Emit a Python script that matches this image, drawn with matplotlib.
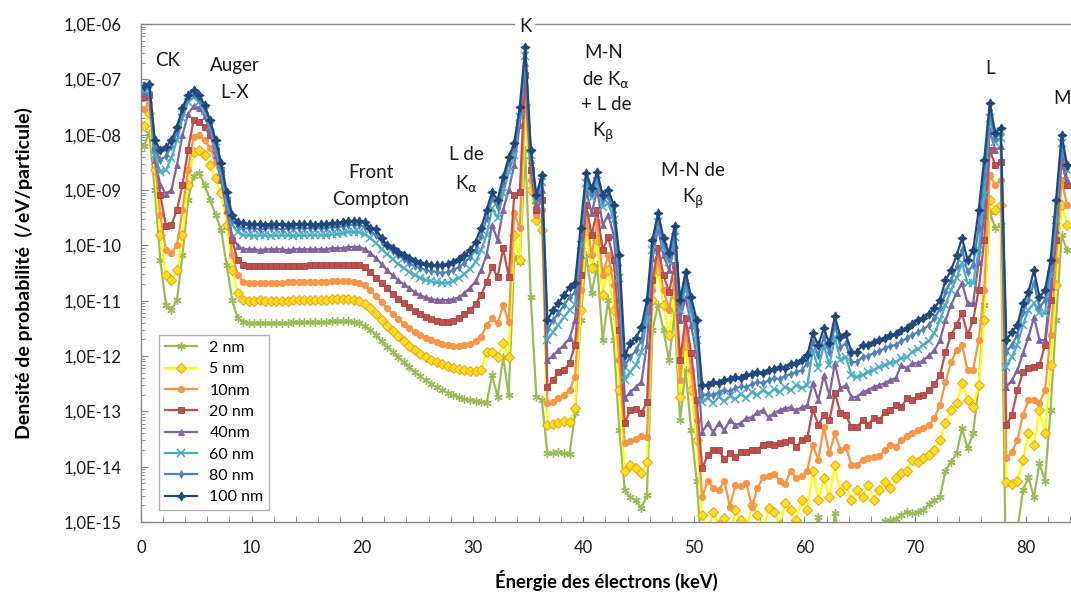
import numpy as np
import matplotlib
matplotlib.use('Agg')
import matplotlib.pyplot as plt
from matplotlib.ticker import FuncFormatter, LogLocator, NullFormatter, MultipleLocator
from matplotlib.lines import Line2D

plt.rcParams['font.family'] = ['Lato', 'DejaVu Sans']
plt.rcParams['mathtext.fontset'] = 'dejavusans'

# energy bin centres (keV)
energy_keV = np.arange(168) * 0.5 + 0.25

labels = ['2 nm', '5 nm', '10nm', '20 nm', '40nm', '60 nm', '80 nm', '100 nm']

# log10 of probability density (/eV/particle)
log_2nm = [-8.21, -7.97, -9.00, -10.27, -11.08, -11.17, -10.99, -10.18, -9.18, -8.75, -8.69, -8.91, -9.18, -9.45, -9.73, -10.36, -10.99,
           -11.32, -11.39, -11.41, -11.41, -11.41, -11.41, -11.41, -11.41, -11.41, -11.41, -11.39, -11.39, -11.39, -11.39, -11.39, -11.39, -11.39, -11.37, -11.37, -11.37, -11.37, -11.39,
           -11.41, -11.46, -11.53, -11.62, -11.73, -11.84, -11.93, -12.02, -12.11, -12.20, -12.29, -12.36, -12.44, -12.51,
           -12.56, -12.62, -12.67, -12.71, -12.74, -12.78, -12.80, -12.82, -12.84, -12.85,
           -12.35, -12.74, -12.02, -12.71, -10.21, -10.30, -8.28, -10.94, -12.74, -12.80,
           -13.76, -13.76, -13.74, -13.76, -13.78,
           -13.03, -11.35, -10.18, -10.86, -10.36, -11.71, -10.99, -11.71, -13.34,
           -14.43, -14.55, -14.61, -14.75, -14.52,
           -11.53, -11.08, -11.53, -12.08, -11.23, -13.16, -12.26, -13.34, -14.25,
           -15.69, -16.05, -15.87, -16.24, -15.96, -15.69, -16.14, -15.87, -16.24, -15.78, -15.96, -16.05, -15.69, -15.87, -16.14, -15.69, -15.96, -15.78, -15.60,
           -15.87, -15.33, -14.91, -15.33, -15.69, -14.84, -15.42, -15.69, -15.87,
           -15.69, -15.87, -15.60, -15.42, -15.24, -14.99, -14.97, -14.95, -14.88, -14.82, -14.84, -14.82, -14.79, -14.68, -14.61, -14.55,
           -14.07, -13.92, -13.76, -13.31, -13.67, -13.40, -12.53, -11.08, -9.40, -9.69, -9.63,
           -16.42, -15.69, -15.15, -14.43, -14.19, -14.55, -13.94, -14.25, -12.98, -11.35, -9.82, -10.09]

log_5nm = [-7.84, -7.61, -8.64, -9.82, -10.54, -10.63, -10.45, -9.82, -8.91, -8.31, -8.28, -8.37, -8.55, -8.78, -9.06, -9.63, -10.45,
           -10.86, -10.99, -11.01, -11.01, -10.99, -11.01, -11.01, -11.01, -11.01, -11.01, -10.99, -10.99, -10.99, -10.99, -10.99, -10.99, -10.99, -10.97, -10.97, -10.97, -10.97, -10.99,
           -11.01, -11.06, -11.14, -11.24, -11.35, -11.46, -11.55, -11.64, -11.73, -11.82, -11.90, -11.97, -12.02, -12.08,
           -12.11, -12.15, -12.18, -12.22, -12.24, -12.26, -12.27, -12.27, -12.26, -11.93,
           -11.93, -12.02, -11.77, -12.02, -9.82, -10.27, -7.47, -9.00, -9.54, -9.73,
           -13.25, -13.23, -13.21, -13.18, -13.20,
           -12.94, -11.17, -9.73, -10.41, -9.91, -10.90, -10.45, -11.17, -12.62,
           -14.07, -13.97, -14.03, -14.12, -13.92,
           -10.99, -10.45, -11.08, -11.62, -10.90, -12.74, -11.80, -12.62, -13.52,
           -14.88, -15.15, -14.82, -15.06, -14.93, -15.24, -14.79, -14.97, -15.11, -14.70, -14.88, -15.15, -14.75, -14.82, -15.06, -14.66, -14.79, -14.97, -14.61,
           -14.79, -14.07, -14.61, -14.21, -14.55, -13.97, -14.46, -14.34, -14.61,
           -14.43, -14.55, -14.34, -14.61, -14.43, -14.28, -14.39, -14.21, -14.12, -14.07, -13.88, -13.92, -13.85, -13.79, -13.70, -13.52,
           -13.21, -12.98, -12.85, -12.49, -12.80, -12.93, -12.53, -11.35, -9.18, -9.36, -9.27,
           -14.28, -14.32, -14.25, -13.88, -13.40, -13.61, -12.98, -13.40, -12.17, -10.72, -9.27, -9.63]

log_10nm = [-7.54, -7.43, -8.46, -9.45, -10.09, -10.14, -10.00, -9.36, -8.64, -8.04, -8.01, -8.10, -8.24, -8.50, -8.82, -9.40, -10.18,
            -10.54, -10.67, -10.68, -10.68, -10.68, -10.68, -10.68, -10.68, -10.68, -10.67, -10.67, -10.67, -10.67, -10.67, -10.67, -10.67, -10.67, -10.65, -10.65, -10.65, -10.65, -10.67,
            -10.68, -10.72, -10.81, -10.92, -11.03, -11.14, -11.24, -11.33, -11.42, -11.50, -11.57, -11.62, -11.68, -11.71,
            -11.75, -11.79, -11.80, -11.82, -11.82, -11.80, -11.79, -11.73, -11.66, -11.44,
            -11.32, -11.41, -11.08, -11.39, -9.42, -9.69, -7.19, -8.82, -9.45, -9.36,
            -12.85, -12.84, -12.76, -12.71, -12.62,
            -12.38, -10.81, -9.45, -10.18, -9.58, -10.54, -10.18, -10.72, -12.08,
            -13.58, -13.54, -13.50, -13.45, -13.47,
            -10.81, -10.23, -10.81, -11.17, -10.63, -12.44, -11.53, -12.26, -13.16,
            -14.55, -14.25, -14.39, -14.43, -14.25, -14.72, -14.34, -14.35, -14.30, -14.73, -14.39, -14.19, -14.17, -14.14, -14.25, -14.32, -14.07, -14.21, -14.16,
            -14.07, -13.61, -13.88, -13.29, -13.76, -13.40, -13.70, -13.65, -13.97,
            -13.97, -13.88, -13.85, -13.83, -13.81, -13.70, -13.61, -13.65, -13.52, -13.45, -13.40, -13.34, -13.31, -13.25, -13.12, -12.89,
            -12.47, -12.11, -11.90, -11.80, -12.26, -12.26, -11.71, -10.81, -8.73, -8.91, -8.82,
            -13.85, -13.74, -13.52, -13.07, -12.80, -12.80, -12.85, -12.62, -11.62, -10.27, -8.82, -9.27]

log_20nm = [-7.32, -7.28, -8.28, -9.09, -9.65, -9.63, -9.36, -8.91, -8.28, -7.74, -7.77, -7.86, -8.01, -8.28, -8.64, -9.18, -9.91,
            -10.27, -10.36, -10.38, -10.38, -10.38, -10.38, -10.38, -10.38, -10.38, -10.38, -10.38, -10.38, -10.38, -10.36, -10.36, -10.36, -10.36, -10.36, -10.36, -10.36, -10.36, -10.36,
            -10.36, -10.39, -10.48, -10.59, -10.68, -10.77, -10.88, -10.97, -11.05, -11.12, -11.19, -11.24, -11.30, -11.33,
            -11.37, -11.39, -11.39, -11.37, -11.32, -11.24, -11.17, -11.06, -10.90, -10.67,
            -10.39, -10.57, -10.05, -10.57, -9.09, -9.04, -6.92, -8.64, -9.36, -9.18,
            -12.56, -12.44, -12.29, -12.26, -12.13,
            -11.80, -10.54, -9.27, -9.82, -9.36, -10.09, -9.85, -10.27, -11.53,
            -13.21, -12.98, -12.96, -13.03, -12.84,
            -10.63, -10.05, -10.54, -10.85, -10.36, -12.08, -11.32, -11.95, -12.80,
            -14.03, -13.79, -13.70, -13.69, -13.87, -13.76, -13.83, -13.74, -13.74, -13.70, -13.69, -13.61, -13.59, -13.61, -13.58, -13.56, -13.52, -13.65, -13.52,
            -13.49, -12.96, -13.25, -13.07, -13.16, -12.67, -13.03, -13.07, -13.29,
            -13.29, -13.16, -13.25, -13.12, -13.16, -13.02, -12.98, -12.89, -12.93, -12.76, -12.80, -12.73, -12.71, -12.62, -12.51, -12.35,
            -11.93, -11.62, -11.44, -11.23, -11.62, -11.35, -10.81, -9.91, -8.28, -8.55, -8.50,
            -13.25, -13.07, -12.62, -12.29, -12.22, -12.20, -12.17, -11.80, -10.99, -9.91, -8.46, -8.91]

log_40nm = [-7.25, -7.27, -8.46, -8.91, -9.07, -9.00, -8.55, -8.01, -7.63, -7.48, -7.52, -7.66, -7.95, -8.37, -8.82, -9.36, -9.83,
            -10.01, -10.07, -10.07, -10.07, -10.09, -10.07, -10.07, -10.07, -10.07, -10.09, -10.07, -10.07, -10.07, -10.07, -10.07, -10.07, -10.07, -10.05, -10.05, -10.05, -10.03, -10.03,
            -10.03, -10.07, -10.14, -10.23, -10.34, -10.45, -10.54, -10.63, -10.70, -10.77, -10.85, -10.90, -10.94, -10.97,
            -10.99, -10.99, -10.99, -10.97, -10.94, -10.86, -10.77, -10.65, -10.45, -10.18,
            -9.63, -9.91, -9.36, -9.00, -8.55, -7.83, -6.71, -8.46, -9.27, -9.00,
            -12.08, -11.99, -11.90, -11.80, -11.68,
            -11.35, -10.18, -9.00, -9.42, -9.00, -9.63, -9.45, -9.82, -10.99,
            -12.76, -12.65, -12.56, -12.47, -11.80,
            -10.23, -9.69, -10.18, -10.45, -10.00, -11.35, -10.94, -11.44, -11.99,
            -13.38, -13.21, -13.38, -13.21, -13.34, -13.16, -13.25, -13.21, -13.12, -13.11, -13.02, -12.98, -13.11, -13.03, -12.98, -12.94, -12.93, -12.98, -12.93,
            -12.89, -12.49, -12.80, -12.35, -12.71, -12.13, -12.58, -12.53, -12.74,
            -12.74, -12.65, -12.62, -12.56, -12.53, -12.49, -12.44, -12.40, -12.17, -12.22, -12.13, -12.13, -12.08, -11.99, -11.90, -11.71,
            -11.35, -11.08, -10.86, -10.68, -11.05, -11.05, -10.30, -9.45, -7.92, -8.28, -8.21,
            -12.56, -12.44, -12.26, -11.95, -11.66, -11.30, -11.71, -11.71, -10.76, -9.73, -8.28, -8.82]

log_60nm = [-7.19, -7.18, -8.37, -8.68, -8.64, -8.42, -8.10, -7.70, -7.41, -7.32, -7.41, -7.57, -7.84, -8.24, -8.68, -9.22, -9.63,
            -9.76, -9.82, -9.82, -9.83, -9.82, -9.82, -9.83, -9.82, -9.82, -9.82, -9.83, -9.82, -9.82, -9.82, -9.82, -9.82, -9.82, -9.80, -9.80, -9.78, -9.76, -9.76,
            -9.76, -9.80, -9.87, -9.96, -10.07, -10.16, -10.25, -10.34, -10.41, -10.48, -10.54, -10.59, -10.63, -10.65,
            -10.67, -10.68, -10.68, -10.65, -10.59, -10.52, -10.43, -10.30, -10.09, -9.82,
            -9.33, -9.51, -9.06, -8.68, -8.37, -7.68, -6.58, -8.37, -9.18, -8.86,
            -11.71, -11.57, -11.44, -11.30, -11.17,
            -11.08, -10.00, -8.88, -9.15, -8.84, -9.31, -9.24, -9.54, -10.59,
            -12.44, -12.29, -12.17, -11.93, -11.35,
            -10.09, -9.58, -10.05, -10.30, -9.85, -11.17, -10.76, -11.21, -11.71,
            -12.84, -12.76, -12.85, -12.74, -12.82, -12.73, -12.78, -12.69, -12.76, -12.65, -12.71, -12.62, -12.69, -12.60, -12.65, -12.56, -12.62, -12.53, -12.58,
            -12.53, -11.90, -12.22, -11.80, -12.17, -11.66, -12.08, -12.02, -12.35,
            -12.38, -12.35, -12.29, -12.26, -12.20, -12.17, -12.13, -12.11, -12.04, -12.02, -11.93, -11.88, -11.80, -11.73, -11.59, -11.35,
            -11.08, -10.81, -10.59, -10.32, -10.68, -10.68, -10.09, -9.09, -7.70, -8.13, -8.06,
            -12.20, -12.02, -11.80, -11.44, -11.17, -11.05, -11.23, -11.23, -10.54, -9.54, -8.15, -8.64]

log_80nm = [-7.16, -7.14, -8.24, -8.46, -8.39, -8.21, -7.95, -7.59, -7.34, -7.27, -7.36, -7.52, -7.79, -8.17, -8.60, -9.13, -9.54,
            -9.65, -9.69, -9.69, -9.69, -9.71, -9.69, -9.69, -9.69, -9.71, -9.69, -9.69, -9.69, -9.69, -9.69, -9.69, -9.69, -9.69, -9.67, -9.67, -9.65, -9.63, -9.63,
            -9.63, -9.67, -9.74, -9.82, -9.92, -10.01, -10.10, -10.18, -10.25, -10.32, -10.38, -10.41, -10.45, -10.47,
            -10.48, -10.50, -10.48, -10.45, -10.39, -10.32, -10.21, -10.09, -9.83, -9.51,
            -9.15, -9.31, -8.88, -8.51, -8.24, -7.59, -6.51, -8.31, -9.15, -8.78,
            -11.53, -11.35, -11.23, -11.08, -10.94,
            -10.85, -9.82, -8.78, -9.06, -8.75, -9.18, -9.11, -9.40, -10.36,
            -12.17, -12.02, -11.90, -11.71, -11.17,
            -10.00, -9.51, -9.96, -10.23, -9.76, -11.08, -10.63, -11.08, -11.53,
            -12.71, -12.69, -12.71, -12.65, -12.62, -12.64, -12.58, -12.55, -12.56, -12.51, -12.47, -12.49, -12.44, -12.40, -12.42, -12.36, -12.33, -12.29, -12.26,
            -12.13, -11.75, -11.99, -11.66, -11.93, -11.44, -11.84, -11.77, -12.11,
            -12.11, -12.02, -12.00, -11.95, -11.91, -11.86, -11.82, -11.80, -11.73, -11.68, -11.62, -11.57, -11.52, -11.44, -11.32, -11.14,
            -10.85, -10.63, -10.38, -10.09, -10.48, -10.36, -9.69, -8.73, -7.56, -8.06, -7.97,
            -11.93, -11.80, -11.62, -11.21, -10.99, -10.68, -11.12, -10.99, -10.41, -9.36, -8.10, -8.60]

log_100nm = [-7.12, -7.09, -8.10, -8.28, -8.22, -8.10, -7.86, -7.52, -7.28, -7.19, -7.28, -7.47, -7.74, -8.10, -8.51, -9.04, -9.45,
             -9.58, -9.60, -9.62, -9.62, -9.62, -9.63, -9.62, -9.62, -9.62, -9.63, -9.62, -9.62, -9.62, -9.62, -9.63, -9.62, -9.62, -9.60, -9.60, -9.58, -9.56, -9.56,
             -9.56, -9.58, -9.69, -9.71, -9.87, -10.00, -10.05, -10.12, -10.18, -10.23, -10.29, -10.32, -10.34, -10.36,
             -10.36, -10.36, -10.34, -10.30, -10.25, -10.18, -10.09, -9.94, -9.69, -9.36,
             -9.04, -9.18, -8.77, -8.41, -8.15, -7.50, -6.42, -8.28, -9.09, -8.73,
             -11.35, -11.17, -11.05, -10.90, -10.76,
             -10.68, -9.69, -8.69, -8.97, -8.68, -9.09, -9.00, -9.27, -10.18,
             -11.99, -11.77, -11.68, -11.48, -10.99,
             -9.91, -9.42, -9.87, -10.14, -9.65, -10.99, -10.48, -10.94, -11.35,
             -12.53, -12.53, -12.47, -12.49, -12.44, -12.42, -12.38, -12.40, -12.35, -12.33, -12.29, -12.31, -12.26, -12.24, -12.20, -12.22, -12.15, -12.13, -12.08,
             -11.99, -11.59, -11.80, -11.50, -11.77, -11.28, -11.66, -11.61, -11.93,
             -11.93, -11.80, -11.80, -11.75, -11.71, -11.68, -11.62, -11.61, -11.53, -11.50, -11.42, -11.35, -11.32, -11.24, -11.14, -10.99,
             -10.63, -10.45, -10.18, -9.87, -10.27, -10.09, -9.36, -8.46, -7.43, -7.97, -7.88,
             -11.71, -11.57, -11.44, -11.05, -10.85, -10.45, -10.94, -10.81, -10.27, -9.18, -8.01, -8.55]

series_logs = [log_2nm, log_5nm, log_10nm, log_20nm, log_40nm, log_60nm, log_80nm, log_100nm]
for s in series_logs:
    assert len(s) == len(energy_keV), len(s)

styles = [
    dict(color='#9BBB59', marker=(6, 2, 0), ms=6, mfc='#9BBB59', mec='#9BBB59', mew=1.0),
    dict(color='#FFFF00', marker='D', ms=4.6, mfc='#FFE31A', mec='#F2A52A', mew=0.8),
    dict(color='#F79646', marker='o', ms=4.4, mfc='#F79646', mec='#F79646', mew=0.8),
    dict(color='#C0504D', marker='s', ms=4.2, mfc='#C0504D', mec='#A8423F', mew=0.6),
    dict(color='#8064A2', marker='^', ms=4.6, mfc='#8064A2', mec='#8064A2', mew=0.6),
    dict(color='#4BACC6', marker='x', ms=5.2, mfc='#4BACC6', mec='#4BACC6', mew=1.1),
    dict(color='#4F81BD', marker='d', ms=4.2, mfc='#4F81BD', mec='#4F81BD', mew=0.6),
    dict(color='#1F497D', marker=(4, 1, 0), ms=6.5, mfc='#1F497D', mec='#1F497D', mew=0.8),
]

fig = plt.figure(figsize=(10.71, 5.92), dpi=100)
W, H = 1071, 592
ax = fig.add_axes([141 / W, 70 / H, 930 / W, 498 / H])

for logs, st in zip(series_logs, styles):
    ax.plot(energy_keV, 10.0 ** np.array(logs), lw=1.6, **st)

ax.set_yscale('log')
ax.set_xlim(0, 84.1)
ax.set_ylim(1e-15, 1e-6)

axis_col = '#868686'
for side in ['left', 'bottom', 'top']:
    ax.spines[side].set_color(axis_col)
    ax.spines[side].set_linewidth(1.0)
ax.spines['right'].set_visible(False)

ax.xaxis.set_major_locator(MultipleLocator(10))
ax.xaxis.set_minor_locator(MultipleLocator(2))
ax.yaxis.set_major_locator(LogLocator(base=10, numticks=20))
ax.yaxis.set_minor_locator(LogLocator(base=10, subs=np.arange(2, 10), numticks=20))
ax.yaxis.set_minor_formatter(NullFormatter())
ax.yaxis.set_major_formatter(FuncFormatter(lambda v, p: '1,0E-%02d' % int(round(-np.log10(v)))))
ax.tick_params(axis='both', which='both', direction='in', color=axis_col, labelsize=12, labelcolor='#1a1a1a')
ax.tick_params(axis='x', which='both', length=4, pad=13, top=False)
ax.tick_params(axis='y', which='major', length=5, pad=14)
ax.tick_params(axis='y', which='minor', length=3)

ax.set_xlabel('Énergie des électrons (keV)', fontsize=13.2, fontweight='bold', labelpad=10)
ax.set_ylabel('Densité de probabilité  (/eV/particule)', fontsize=14, fontweight='bold', labelpad=22)

# annotations (positions in axes fraction)
def ann(px, py, s, **kw):
    ax.text((px - 141) / 930, (522 - py) / 498, s, transform=ax.transAxes,
            ha='center', va='center', fontsize=13.5, color='#1a1a1a', clip_on=False, **kw)

ann(168, 60, 'CK')
ann(235, 65, 'Auger')
ann(235, 92, 'L-X')
ann(371, 173, 'Front')
ann(371, 200, 'Compton')
ann(466, 155, 'L de')
ann(466, 184, r'K$_{\mathrm{\alpha}}$')
ann(525, 26, 'K', bbox=dict(facecolor='white', edgecolor='none', pad=2.5), zorder=5)
ann(604, 52, 'M-N')
ann(606, 80, r'de K$_{\mathrm{\alpha}}$')
ann(606, 104, '+ L de')
ann(603, 133, r'K$_{\mathrm{\beta}}$')
ann(693, 170, 'M-N de')
ann(693, 199, r'K$_{\mathrm{\beta}}$')
ann(990, 69, 'L')
ann(1062, 99, 'M')

handles = [Line2D([0], [0], lw=1.6, **st) for st in styles]
leg = ax.legend(handles, labels, loc='lower left', bbox_to_anchor=(18 / 930, 12 / 498),
                fontsize=11.5, frameon=True, fancybox=False, borderpad=0.35,
                labelspacing=0.45, handlelength=2.0, handletextpad=0.8, borderaxespad=0)
leg.get_frame().set_edgecolor('#A0A0A0')
leg.get_frame().set_linewidth(1.0)

fig.savefig('out.png', dpi=100)
